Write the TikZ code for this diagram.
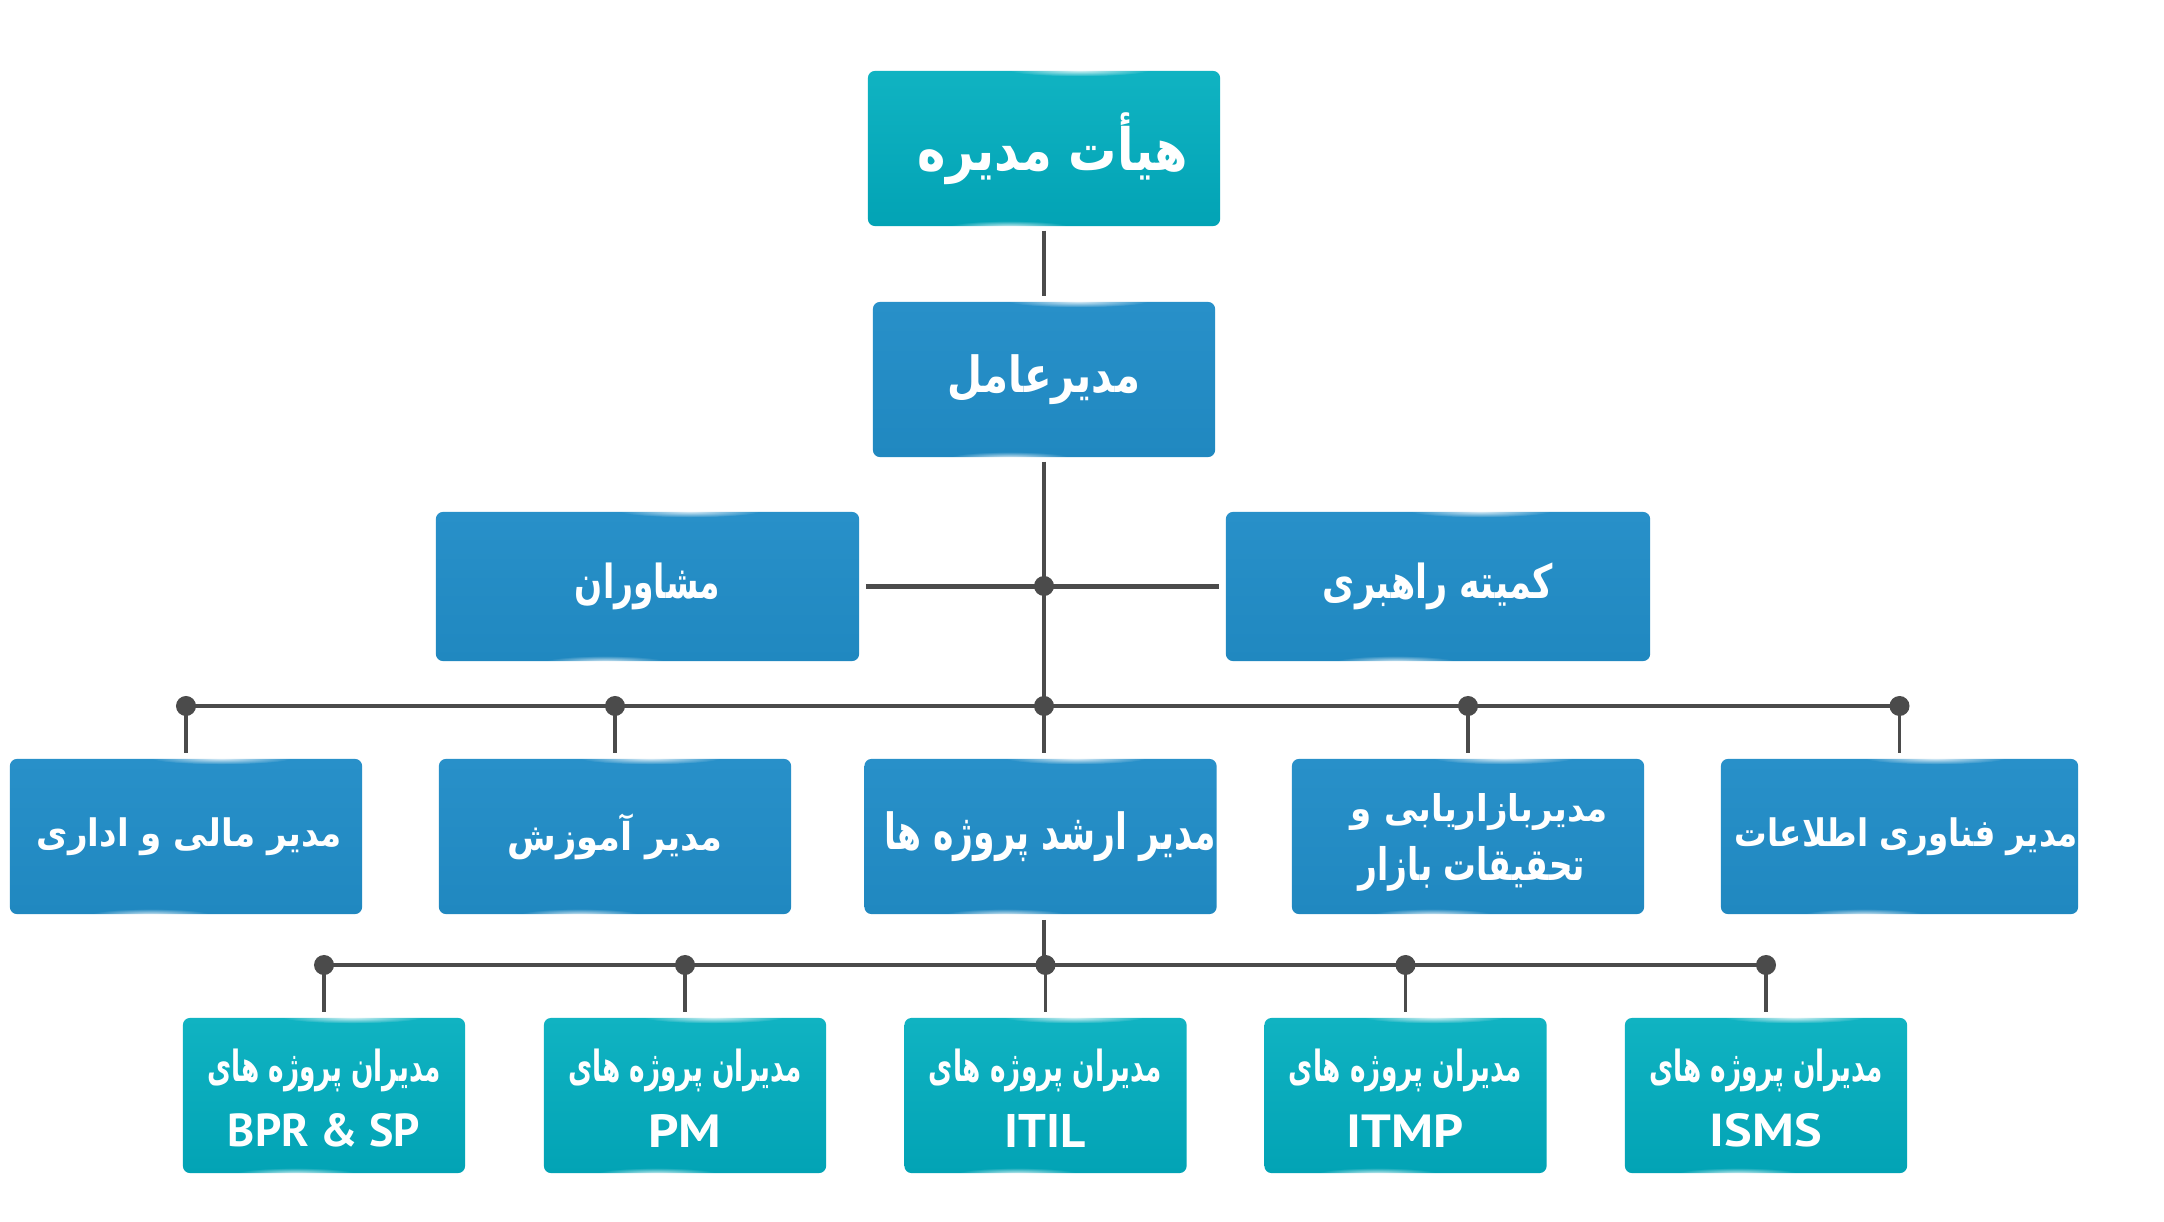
\documentclass[tikz,border=0pt]{standalone}
\usepackage{fontspec}
\usetikzlibrary{fadings,calc}
\TeXXeTstate=1
\newfontfamily\persianfont[Script=Arabic]{DejaVu Sans}
\newfontfamily\latinfont{PT Sans}
\definecolor{tealA}{HTML}{10B3C2}
\definecolor{tealB}{HTML}{02A3B5}
\definecolor{blueA}{HTML}{2890C9}
\definecolor{blueB}{HTML}{2088C0}
\definecolor{linegray}{HTML}{4B4B4B}
% width x total height
\newcommand\fith[3]{\resizebox*{#1}{#2}{#3}}
\newcommand\fab[1]{{\persianfont\bfseries\beginR #1\endR}}
\newcommand\lat[1]{{\latinfont\bfseries #1}}
% top kern, line 1, gap, line 2
\newcommand\twolines[4]{\vbox{\offinterlineskip\kern#1\halign{\hfil##\hfil\cr#2\cr\noalign{\kern#3}#4\cr}}}
\tikzfading[name=glowfade, inner color=transparent!0, outer color=transparent!100]
\begin{document}
\begin{tikzpicture}[x=0.01cm,y=-0.01cm,
  boxbase/.style={rectangle, rounded corners=0.07cm, inner sep=0pt, text=white, font=\fontsize{10}{12}\selectfont},
  tealbox/.style={boxbase, top color=tealA, bottom color=tealB},
  bluebox/.style={boxbase, top color=blueA, bottom color=blueB},
  bigbox/.style={minimum width=3.52cm, minimum height=1.55cm},
  smallbox/.style={minimum width=2.82cm, minimum height=1.55cm},
  conn/.style={draw=linegray, line width=0.042cm},
  dropline/.style={draw=linegray, line width=0.035cm},
  jdot/.style={fill=linegray},
  glow/.style={white, path fading=glowfade, opacity=0.85},
]
\useasboundingbox[fill=white] (0,0) rectangle (2164,1222);

% top levels
\node[tealbox, minimum width=3.52cm, minimum height=1.55cm] (top) at (1044,148.5) {\kern0.18cm\fith{2.70cm}{0.72cm}{\fab{هیأت مدیره}}};
\node[bluebox, minimum width=3.42cm, minimum height=1.55cm] (ceo) at (1044,379.5) {\fith{1.92cm}{0.50cm}{\fab{مدیرعامل}}};
\node[bluebox, minimum width=4.23cm, minimum height=1.49cm] (adv) at (647.5,586.5) {\fith{1.45cm}{0.47cm}{\fab{مشاوران}}};
\node[bluebox, minimum width=4.24cm, minimum height=1.49cm] (comm) at (1438,586.5) {\fith{2.30cm}{0.47cm}{\fab{کمیته راهبری}}};

% middle row
\node[bluebox, bigbox] (m1) at (186,836.5) {\kern0.07cm\fith{3.05cm}{0.38cm}{\fab{مدیر مالی و اداری}}};
\node[bluebox, bigbox] (m2) at (615,836.5) {\fith{2.15cm}{0.46cm}{\fab{مدیر آموزش}}};
\node[bluebox, bigbox] (m3) at (1040.5,836.5) {\kern0.19cm\fith{3.31cm}{0.50cm}{\fab{مدیر ارشد پروژه ها}}};
\node[bluebox, bigbox] (m4) at (1468,836.5) {\twolines{0.12cm}{\kern0.23cm\fith{2.57cm}{0.37cm}{\fab{مدیربازاریابی و}}}{0.16cm}{\kern0.08cm\fith{2.26cm}{0.45cm}{\fab{تحقیقات بازار}}}};
\node[bluebox, bigbox] (m5) at (1899.5,836.5) {\kern0.14cm\fith{3.43cm}{0.38cm}{\fab{مدیر فناوری اطلاعات}}};

% bottom row
\node[tealbox, smallbox] (b1) at (324,1095.5) {\twolines{0.05cm}{\fith{2.33cm}{0.43cm}{\fab{مدیران پروژه های}}}{0.22cm}{\resizebox{1.92cm}{0.33cm}{\lat{BPR \& SP}}}};
\node[tealbox, smallbox] (b2) at (685,1095.5) {\twolines{0.05cm}{\fith{2.33cm}{0.43cm}{\fab{مدیران پروژه های}}}{0.22cm}{\resizebox{0.73cm}{0.33cm}{\lat{PM}}}};
\node[tealbox, smallbox] (b3) at (1045.5,1095.5) {\twolines{0.05cm}{\fith{2.33cm}{0.43cm}{\fab{مدیران پروژه های}}}{0.22cm}{\resizebox{0.81cm}{0.33cm}{\lat{ITIL}}}};
\node[tealbox, smallbox] (b4) at (1405.5,1095.5) {\twolines{0.05cm}{\fith{2.33cm}{0.43cm}{\fab{مدیران پروژه های}}}{0.22cm}{\resizebox{1.17cm}{0.33cm}{\lat{ITMP}}}};
\node[tealbox, smallbox] (b5) at (1766,1095.5) {\twolines{0.05cm}{\fith{2.33cm}{0.43cm}{\fab{مدیران پروژه های}}}{0.22cm}{\resizebox{1.12cm}{0.33cm}{\lat{ISMS}}}};

% glossy highlights
\foreach \n in {top,ceo,adv,comm,m1,m2,m3,m4,m5,b1,b2,b3,b4,b5}{
  \fill[glow] ($(\n.north west)!0.6!(\n.north east)$) ellipse [x radius=0.7cm, y radius=0.06cm];
  \fill[glow] ($(\n.south west)!0.4!(\n.south east)$) ellipse [x radius=0.6cm, y radius=0.06cm];
}

% junctions
\coordinate (jA) at (1044,586);
\coordinate (jB) at (1044,706);
\coordinate (jC) at (1044,965);

% connectors
\draw[conn, shorten <=0.04cm, shorten >=0.05cm] (top.south) -- (ceo.north);
\draw[conn, shorten <=0.04cm, shorten >=0.05cm] (ceo.south) -- (jB |- m3.north);
\draw[conn, shorten <=0.06cm, shorten >=0.06cm] (adv.east) -- (comm.west);
\draw[conn] (m1.north |- jB) -- (m5.north |- jB);
\foreach \n in {m1,m2,m4,m5}{
  \draw[dropline, shorten >=0.05cm] (\n.north |- jB) -- (\n.north);
  \fill[jdot] (\n.north |- jB) circle[radius=0.1cm];
}
\fill[jdot] (jA) circle[radius=0.1cm];
\fill[jdot] (jB) circle[radius=0.1cm];
\draw[conn, shorten <=0.05cm] (jC |- m3.south) -- (jC);
\draw[conn] (b1.north |- jC) -- (b5.north |- jC);
\foreach \n in {b1,b2,b3,b4,b5}{
  \draw[dropline, shorten >=0.05cm] (\n.north |- jC) -- (\n.north);
  \fill[jdot] (\n.north |- jC) circle[radius=0.1cm];
}
\end{tikzpicture}
\end{document}
